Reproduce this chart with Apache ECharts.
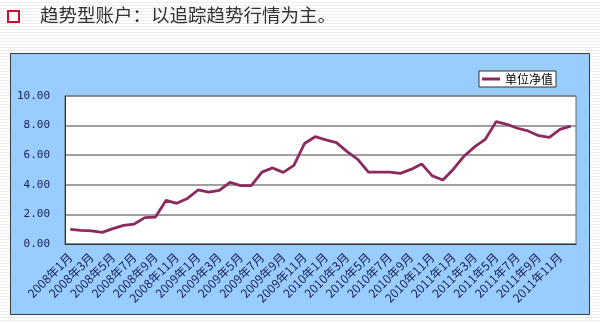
<!DOCTYPE html>
<html lang="zh-CN" style="height: 100%">
<head>
  <meta charset="utf-8">
  <style>
    html, body { margin: 0; height: 100%; }
    body {
      background: repeating-linear-gradient(to bottom, #ffffff 0px, #ffffff 2px, #ececec 2px, #ececec 3px);
    }
    #container { width: 600px; height: 323px; }
  </style>
</head>
<body>
  <div id="container"></div>
  <script type="text/javascript" src="https://cdn.jsdelivr.net/npm/echarts@6/dist/echarts.min.js"></script>
  <script type="text/javascript">
    // 月份 2008年1月 - 2011年12月
    var years = [2008, 2009, 2010, 2011];
    var months = [];
    years.forEach(function (y) {
      for (var m = 1; m <= 12; m++) months.push(y + '年' + m + '月');
    });

    // 单位净值
    var navValues = [
      0.99, 0.92, 0.88, 0.79, 1.04, 1.26, 1.35, 1.78, 1.82, 2.95, 2.75, 3.08,
      3.65, 3.51, 3.62, 4.17, 3.94, 3.94, 4.86, 5.14, 4.84, 5.31, 6.79, 7.25,
      7.03, 6.85, 6.24, 5.72, 4.86, 4.86, 4.86, 4.77, 5.04, 5.41, 4.6, 4.32,
      5.07, 5.95, 6.58, 7.09, 8.27, 8.09, 7.82, 7.64, 7.32, 7.21, 7.75, 7.97
    ];

    var dom = document.getElementById('container');
    var myChart = echarts.init(dom, null, { renderer: 'canvas' });

    var option = {
      animation: false,
      backgroundColor: 'transparent',
      graphic: [
        {
          type: 'rect', left: 10, top: 53, z: -10,
          shape: { width: 579, height: 261 },
          style: { fill: '#99ccff', stroke: '#3a3a3a', lineWidth: 1 }
        },
        {
          type: 'rect', left: 7, top: 10,
          shape: { width: 11, height: 11 },
          style: { fill: '#ffffff', stroke: '#c8102e', lineWidth: 2 }
        },
        {
          type: 'text', left: 40, top: 6,
          style: {
            text: '趋势型账户：以追踪趋势行情为主。',
            fill: '#333333',
            font: '18.5px "Noto Sans CJK SC"'
          }
        }
      ],
      legend: {
        right: 44, top: 71,
        icon: 'rect', itemWidth: 18, itemHeight: 3, itemGap: 4,
        backgroundColor: '#ffffff', borderColor: '#333333', borderWidth: 1,
        padding: [2, 3],
        textStyle: { fontSize: 12, color: '#000', fontFamily: 'Noto Sans CJK SC' },
        data: ['单位净值']
      },
      grid: {
        left: 65, right: 24, top: 96, bottom: 79,
        show: true, backgroundColor: '#ffffff', borderColor: '#666666', borderWidth: 1
      },
      xAxis: {
        type: 'category',
        data: months,
        boundaryGap: true,
        axisLine: { lineStyle: { color: '#333', width: 1 } },
        axisTick: { interval: 1, length: 4, lineStyle: { color: '#333' } },
        axisLabel: {
          interval: 1, rotate: 45, margin: 11,
          fontSize: 12, color: '#1a2050', fontFamily: 'Noto Sans CJK SC'
        }
      },
      yAxis: {
        type: 'value',
        min: 0, max: 10, interval: 2,
        axisLine: { show: true, lineStyle: { color: '#333' } },
        axisTick: { show: false },
        axisLabel: {
          margin: 15, fontSize: 11, color: '#1a2050', fontFamily: 'DejaVu Sans Mono',
          formatter: function (v) { return v.toFixed(2); }
        },
        splitLine: { lineStyle: { color: '#808080', width: 1.5 } }
      },
      series: [
        {
          name: '单位净值',
          type: 'line',
          data: navValues,
          showSymbol: false,
          symbol: 'none',
          lineStyle: { color: '#8b2a5e', width: 2.8 },
          itemStyle: { color: '#8b2a5e' }
        }
      ]
    };

    myChart.setOption(option);
    window.addEventListener('resize', myChart.resize);
  </script>
</body>
</html>
